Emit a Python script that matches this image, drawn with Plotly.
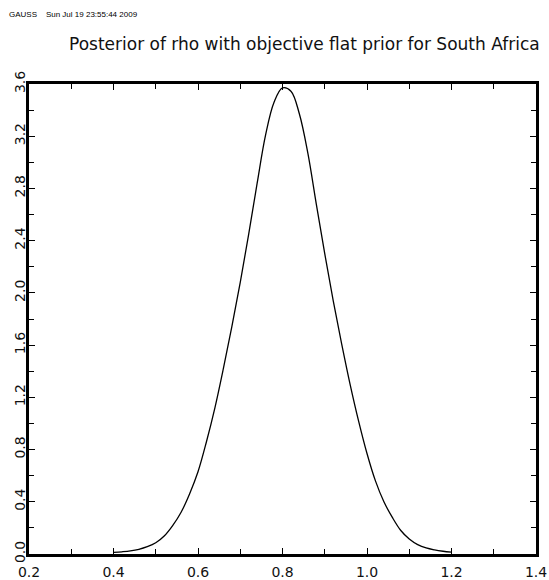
import plotly.graph_objects as go

rho = [0.40, 0.42, 0.44, 0.46, 0.48, 0.50, 0.52, 0.54, 0.56, 0.58,
       0.60, 0.62, 0.64, 0.66, 0.68, 0.70, 0.72, 0.74, 0.76, 0.78,
       0.80, 0.82, 0.84, 0.86, 0.88, 0.90, 0.92, 0.94, 0.96, 0.98,
       1.00, 1.02, 1.04, 1.06, 1.08, 1.10, 1.12, 1.14, 1.16, 1.18, 1.20]
density = [0.012, 0.017, 0.024, 0.036, 0.056, 0.086, 0.138, 0.218, 0.32, 0.46,
           0.63, 0.86, 1.12, 1.42, 1.74, 2.08, 2.45, 2.84, 3.21, 3.46,
           3.57, 3.545, 3.37, 3.07, 2.68, 2.30, 1.94, 1.61, 1.30, 1.02,
           0.77, 0.56, 0.40, 0.28, 0.18, 0.115, 0.072, 0.046, 0.031, 0.021, 0.014]

x_ticks = [0.2, 0.4, 0.6, 0.8, 1.0, 1.2, 1.4]
x_tick_labels = ["0.2", "0.4", "0.6", "0.8", "1.0", "1.2", "1.4"]
y_ticks = [0.0, 0.4, 0.8, 1.2, 1.6, 2.0, 2.4, 2.8, 3.2, 3.6]
y_tick_labels = ["0.0", "0.4", "0.8", "1.2", "1.6", "2.0", "2.4", "2.8", "3.2", "3.6"]

title_text = "Posterior of rho with objective flat prior for South Africa"
header_text = "GAUSS&nbsp;&nbsp;&nbsp;&nbsp;Sun Jul 19 23:55:44 2009"

FONT = "DejaVu Sans"

fig = go.Figure()
fig.add_trace(go.Scatter(x=rho, y=density, mode="lines",
                         line=dict(color="black", width=1.3, shape="spline", smoothing=1.0),
                         hoverinfo="skip", showlegend=False))

axis_common = dict(
    showgrid=False, zeroline=False, showline=True, linecolor="black", linewidth=2.5,
    mirror="allticks", ticks="inside", ticklen=6, tickwidth=1, tickcolor="black",
    tickfont=dict(family=FONT, size=14, color="#111"), automargin=False,
)

fig.update_xaxes(range=[0.2, 1.4], tickmode="array", tickvals=x_ticks, ticktext=x_tick_labels,
                 minor=dict(ticks="inside", dtick=0.1, tick0=0.2, ticklen=5, tickwidth=1, tickcolor="black"),
                 ticklabelstandoff=3, **axis_common)
fig.update_yaxes(range=[0.0, 3.6], tickmode="array", tickvals=y_ticks, ticktext=y_tick_labels,
                 tickangle=-90,
                 minor=dict(ticks="inside", dtick=0.2, tick0=0.0, ticklen=5, tickwidth=1, tickcolor="black"),
                 ticklabelstandoff=-4, **axis_common)

fig.update_layout(
    width=549, height=580,
    margin=dict(l=29, r=13, t=84, b=26),
    paper_bgcolor="white", plot_bgcolor="white",
    annotations=[
        dict(text=title_text, xref="paper", yref="paper", x=0.544, y=1.086,
             xanchor="center", yanchor="middle", showarrow=False,
             font=dict(family=FONT, size=17, color="#111")),
        dict(text=header_text, xref="paper", yref="paper", x=-0.0434, y=1.147,
             xanchor="left", yanchor="middle", showarrow=False,
             font=dict(family="Liberation Sans", size=8, color="black")),
    ],
)

fig.write_html("out.html", config={"displayModeBar": False},
               post_script="document.body.style.margin='0';document.body.style.overflow='hidden';")
